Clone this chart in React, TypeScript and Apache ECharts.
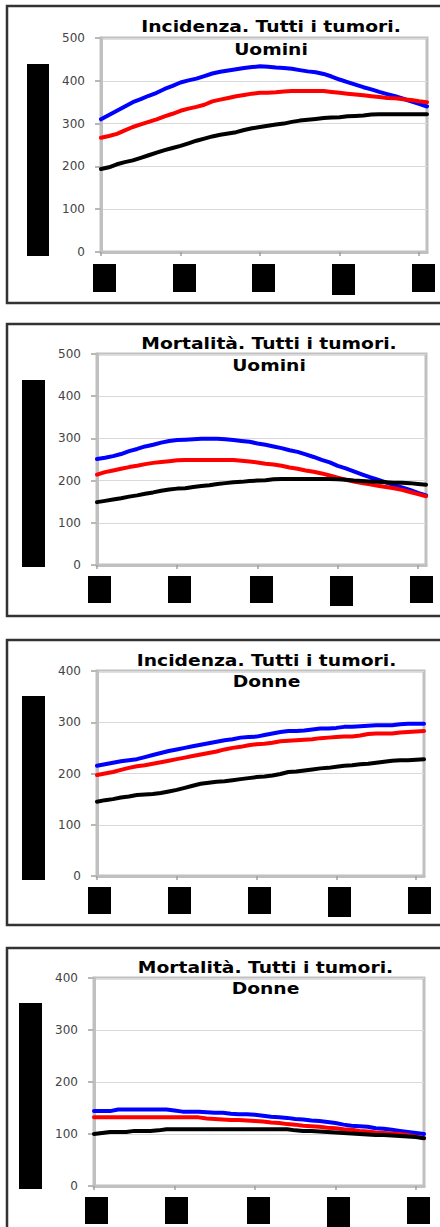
import React, { useEffect, useRef } from "react";
import * as echarts from "echarts";

// Year index along the x axis (tick labels are redacted in the reference)
const yearIndex: number[] = [
  0, 1, 2, 3, 4, 5, 6, 7, 8, 9, 10, 11, 12, 13, 14, 15, 16, 17, 18, 19, 20,
  21, 22, 23, 24, 25, 26, 27, 28, 29, 30, 31, 32, 33, 34, 35, 36, 37, 38, 39, 40, 41,
];
const xTicks: number[] = [0, 10, 20, 30, 40];

// Panel 1: Incidenza, Uomini
const incUominiBlue: number[] = [
  310, 320, 330, 340, 350, 357, 365, 372, 381, 388, 396, 401, 405, 411, 417, 421, 424, 427, 430, 432, 434,
  433, 431, 430, 428, 425, 422, 420, 416, 410, 403, 397, 391, 385, 380, 374, 369, 364, 358, 352, 346, 340,
];
const incUominiRed: number[] = [
  267, 271, 276, 284, 292, 298, 304, 310, 317, 323, 330, 335, 339, 344, 352, 356, 360, 364, 367, 370, 372,
  372, 373, 375, 376, 376, 376, 376, 376, 374, 372, 370, 368, 366, 364, 362, 360, 359, 357, 355, 352, 350,
];
const incUominiBlack: number[] = [
  194, 198, 205, 210, 214, 220, 226, 232, 238, 243, 248, 254, 260, 265, 270, 274, 277, 280, 285, 289, 292,
  295, 298, 300, 304, 307, 309, 311, 313, 314, 315, 317, 318, 319, 321, 322, 322, 322, 322, 322, 322, 322,
];

// Panel 2: Mortalità, Uomini
const morUominiBlue: number[] = [
  251, 254, 258, 263, 270, 275, 281, 285, 290, 294, 296, 297, 298, 299, 299, 299, 298, 296, 294, 292, 288,
  285, 281, 277, 272, 268, 262, 256, 249, 243, 235, 229, 222, 215, 208, 202, 196, 189, 184, 178, 171, 165,
];
const morUominiRed: number[] = [
  214, 220, 224, 228, 232, 235, 239, 242, 244, 246, 248, 249, 249, 249, 249, 249, 249, 249, 247, 245, 243,
  240, 238, 235, 231, 228, 224, 221, 217, 212, 207, 202, 198, 194, 191, 188, 185, 182, 178, 173, 168, 163,
];
const morUominiBlack: number[] = [
  149, 152, 155, 158, 162, 165, 169, 172, 176, 179, 181, 182, 185, 187, 189, 192, 194, 196, 197, 199, 200,
  201, 203, 204, 204, 204, 204, 204, 204, 204, 203, 202, 200, 199, 198, 197, 196, 195, 195, 194, 192, 190,
];

// Panel 3: Incidenza, Donne
const incDonneBlue: number[] = [
  215, 218, 221, 224, 226, 228, 232, 236, 240, 244, 247, 250, 253, 256, 259, 262, 265, 267, 270, 271, 272,
  275, 278, 281, 283, 283, 284, 286, 288, 288, 289, 291, 291, 292, 293, 294, 294, 294, 296, 297, 297, 297,
];
const incDonneRed: number[] = [
  197, 200, 203, 207, 211, 214, 216, 219, 222, 225, 228, 231, 234, 237, 240, 243, 247, 250, 252, 255, 257,
  258, 260, 263, 264, 265, 266, 267, 269, 270, 271, 272, 272, 274, 277, 278, 278, 278, 280, 281, 282, 283,
];
const incDonneBlack: number[] = [
  145, 148, 150, 153, 155, 158, 159, 160, 162, 165, 168, 172, 176, 180, 182, 184, 185, 187, 189, 191, 193,
  194, 196, 199, 203, 204, 206, 208, 210, 211, 213, 215, 216, 218, 219, 221, 223, 225, 226, 226, 227, 228,
];

// Panel 4: Mortalità, Donne
const morDonneBlue: number[] = [
  144, 144, 144, 147, 147, 147, 147, 147, 147, 147, 145, 143, 143, 143, 142, 141, 141, 139, 138, 138, 137,
  135, 133, 132, 131, 129, 128, 126, 125, 123, 121, 118, 116, 115, 114, 111, 110, 108, 106, 104, 102, 100,
];
const morDonneRed: number[] = [
  132, 132, 132, 132, 132, 132, 132, 132, 132, 132, 132, 132, 132, 132, 130, 129, 128, 127, 127, 126, 125,
  124, 122, 121, 119, 118, 116, 115, 114, 112, 111, 109, 108, 106, 105, 103, 102, 101, 100, 98, 95, 92,
];
const morDonneBlack: number[] = [
  100, 102, 104, 104, 104, 106, 106, 106, 107, 109, 109, 109, 109, 109, 109, 109, 109, 109, 109, 109, 109,
  109, 109, 109, 109, 107, 106, 106, 105, 104, 103, 102, 101, 100, 99, 98, 98, 97, 96, 95, 94, 92,
];

const titleLine1: string[] = [
  "Incidenza. Tutti i tumori.",
  "Mortalità. Tutti i tumori.",
  "Incidenza. Tutti i tumori.",
  "Mortalità. Tutti i tumori.",
];
const titleLine2: string[] = ["Uomini", "Uomini", "Donne", "Donne"];
const yMaxes: number[] = [500, 500, 400, 400];
const seriesColors: string[] = ["#0000ff", "#ff0000", "#000000"];

const panelData: number[][][] = [
  [incUominiBlue, incUominiRed, incUominiBlack],
  [morUominiBlue, morUominiRed, morUominiBlack],
  [incDonneBlue, incDonneRed, incDonneBlack],
  [morDonneBlue, morDonneRed, morDonneBlack],
];

// Layout (pixels)
const grids = [
  { left: 101, top: 38, width: 326, height: 214 },
  { left: 97, top: 354, width: 329, height: 211 },
  { left: 97, top: 671, width: 327, height: 205 },
  { left: 94, top: 978, width: 330, height: 208 },
];
const panelBoxes = [
  { y: 6, h: 297 },
  { y: 324, h: 292 },
  { y: 640, h: 285 },
  { y: 948, h: 300 },
];
const titlePos = [
  { cx: 271, y1: 26.5, y2: 49 },
  { cx: 269, y1: 343, y2: 365.5 },
  { cx: 266.5, y1: 660, y2: 681.5 },
  { cx: 265.5, y1: 967.5, y2: 988.7 },
];
const yRedact = [
  { x: 27, y: 64, w: 22, h: 192 },
  { x: 22, y: 380, w: 23, h: 187 },
  { x: 22, y: 696, w: 23, h: 184 },
  { x: 19, y: 1003, w: 23, h: 186 },
];
const xRedact = [
  { xs: [93, 173, 252, 332, 412], y: 264, h: 28 },
  { xs: [88, 168, 250, 330, 410], y: 576, h: 27 },
  { xs: [88, 168, 248, 328, 408], y: 887, h: 27 },
  { xs: [85, 165, 247, 327, 407], y: 1197, h: 27 },
];

export default function App() {
  const ref = useRef<HTMLDivElement>(null);

  useEffect(() => {
    document.body.style.margin = "0";
    if (!ref.current) return;
    const chart = echarts.init(ref.current, undefined, { renderer: "svg" });

    const xAxis: any[] = [];
    const yAxis: any[] = [];
    const series: any[] = [];
    const graphic: any[] = [];

    grids.forEach((g, p) => {
      xAxis.push({
        type: "value",
        gridIndex: p,
        min: 0,
        max: 41,
        interval: 10,
        axisLine: { show: true, lineStyle: { color: "#c0c0c0", width: 3 } },
        axisTick: {
          show: true,
          length: 4,
          customValues: xTicks,
          lineStyle: { color: "#a0a0a0", width: 1.5 },
        },
        axisLabel: { show: false },
        splitLine: { show: false },
      });
      yAxis.push({
        type: "value",
        gridIndex: p,
        min: 0,
        max: yMaxes[p],
        interval: 100,
        axisLine: { show: true, lineStyle: { color: "#c0c0c0", width: 3 } },
        axisTick: { show: true, length: 6, lineStyle: { color: "#b8b8b8", width: 2 } },
        axisLabel: {
          margin: 16,
          color: "#444444",
          fontFamily: "DejaVu Sans",
          fontSize: 12,
        },
        splitLine: { show: true, lineStyle: { color: "#d9d9d9", width: 1 } },
      });
      panelData[p].forEach((vals, s) => {
        series.push({
          type: "line",
          xAxisIndex: p,
          yAxisIndex: p,
          data: vals.map((v, i) => [yearIndex[i], v]),
          showSymbol: false,
          symbol: "none",
          lineStyle: { color: seriesColors[s], width: 4, cap: "round", join: "round" },
          itemStyle: { color: seriesColors[s] },
          z: 3 + s,
        });
      });

      const b = panelBoxes[p];
      graphic.push({
        type: "rect",
        shape: { x: 7, y: b.y, width: 445, height: b.h },
        style: { fill: "none", stroke: "#333333", lineWidth: 2.5 },
        z: 1,
      });
      const t = titlePos[p];
      graphic.push({
        type: "text",
        x: t.cx,
        y: t.y1,
        scaleX: 1.17,
        style: {
          text: titleLine1[p],
          font: "bold 16px 'DejaVu Sans'",
          fill: "#000000",
          textAlign: "center",
          textVerticalAlign: "middle",
        },
        z: 10,
      });
      graphic.push({
        type: "text",
        x: t.cx,
        y: t.y2,
        scaleX: 1.17,
        style: {
          text: titleLine2[p],
          font: "bold 16px 'DejaVu Sans'",
          fill: "#000000",
          textAlign: "center",
          textVerticalAlign: "middle",
        },
        z: 10,
      });
      const yr = yRedact[p];
      graphic.push({
        type: "rect",
        shape: { x: yr.x, y: yr.y, width: yr.w, height: yr.h },
        style: { fill: "#000000" },
        z: 10,
      });
      const xr = xRedact[p];
      xr.xs.forEach((x, k) => {
        graphic.push({
          type: "rect",
          shape: { x, y: xr.y, width: 23, height: k === 3 ? xr.h + 3 : xr.h },
          style: { fill: "#000000" },
          z: 10,
        });
      });
    });

    chart.setOption({
      animation: false,
      backgroundColor: "#ffffff",
      grid: grids.map((g) => ({
        left: g.left,
        top: g.top,
        width: g.width,
        height: g.height,
        show: true,
        borderColor: "#c0c0c0",
        borderWidth: 3,
        backgroundColor: "transparent",
      })),
      xAxis,
      yAxis,
      series,
      graphic,
    });

    return () => chart.dispose();
  }, []);

  return <div ref={ref} style={{ width: 440, height: 1227 }} />;
}
